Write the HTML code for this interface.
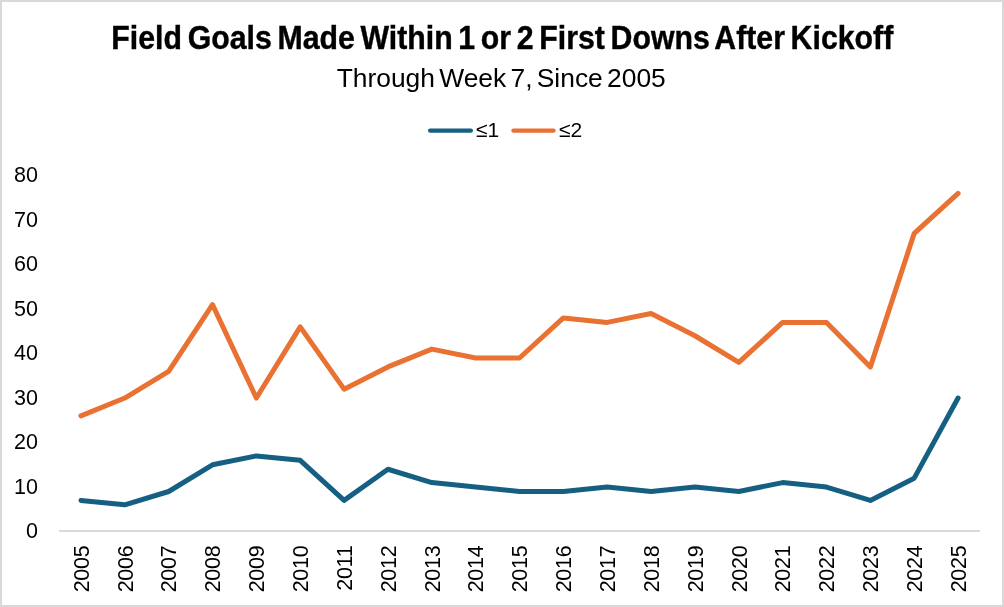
<!DOCTYPE html>
<html><head><meta charset="utf-8"><style>
html,body{margin:0;padding:0;background:#fff;}
body{width:1004px;height:607px;overflow:hidden;position:relative;}
svg{position:absolute;left:0;top:0;will-change:transform;}
text{font-family:"Liberation Sans",sans-serif;fill:#000;}
</style></head><body>
<svg width="1004" height="607" viewBox="0 0 1004 607">
<rect x="1" y="1" width="1002" height="605" fill="#fff" stroke="#d9d9d9" stroke-width="2"/>
<text transform="translate(502.3,49.3) scale(0.918,1)" text-anchor="middle" font-size="33" font-weight="bold" word-spacing="-3" stroke="#000" stroke-width="0.4">Field Goals Made Within 1 or 2 First Downs After Kickoff</text>
<text transform="translate(501.2,86.9) scale(1.015,1)" text-anchor="middle" font-size="26" word-spacing="-3">Through Week 7, Since 2005</text>
<g font-size="21.5"><text x="38" y="538.39" text-anchor="end">0</text><text x="38" y="493.86" text-anchor="end">10</text><text x="38" y="449.33" text-anchor="end">20</text><text x="38" y="404.80" text-anchor="end">30</text><text x="38" y="360.27" text-anchor="end">40</text><text x="38" y="315.74" text-anchor="end">50</text><text x="38" y="271.21" text-anchor="end">60</text><text x="38" y="226.68" text-anchor="end">70</text><text x="38" y="182.15" text-anchor="end">80</text></g><g font-size="21.5" letter-spacing="-0.3"><text transform="translate(88.67,545.7) rotate(-90)" text-anchor="end">2005</text><text transform="translate(132.53,545.7) rotate(-90)" text-anchor="end">2006</text><text transform="translate(176.38,545.7) rotate(-90)" text-anchor="end">2007</text><text transform="translate(220.24,545.7) rotate(-90)" text-anchor="end">2008</text><text transform="translate(264.10,545.7) rotate(-90)" text-anchor="end">2009</text><text transform="translate(307.95,545.7) rotate(-90)" text-anchor="end">2010</text><text transform="translate(351.81,545.7) rotate(-90)" text-anchor="end">2011</text><text transform="translate(395.67,545.7) rotate(-90)" text-anchor="end">2012</text><text transform="translate(439.53,545.7) rotate(-90)" text-anchor="end">2013</text><text transform="translate(483.38,545.7) rotate(-90)" text-anchor="end">2014</text><text transform="translate(527.24,545.7) rotate(-90)" text-anchor="end">2015</text><text transform="translate(571.10,545.7) rotate(-90)" text-anchor="end">2016</text><text transform="translate(614.95,545.7) rotate(-90)" text-anchor="end">2017</text><text transform="translate(658.81,545.7) rotate(-90)" text-anchor="end">2018</text><text transform="translate(702.67,545.7) rotate(-90)" text-anchor="end">2019</text><text transform="translate(746.53,545.7) rotate(-90)" text-anchor="end">2020</text><text transform="translate(790.38,545.7) rotate(-90)" text-anchor="end">2021</text><text transform="translate(834.24,545.7) rotate(-90)" text-anchor="end">2022</text><text transform="translate(878.10,545.7) rotate(-90)" text-anchor="end">2023</text><text transform="translate(921.95,545.7) rotate(-90)" text-anchor="end">2024</text><text transform="translate(965.81,545.7) rotate(-90)" text-anchor="end">2025</text></g>
<line x1="59" y1="531" x2="980" y2="531" stroke="#d9d9d9" stroke-width="2"/>
<polyline points="80.93,500.40 124.79,504.85 168.64,491.50 212.50,464.80 256.36,455.90 300.21,460.35 344.07,500.40 387.93,469.25 431.79,482.60 475.64,487.05 519.50,491.50 563.36,491.50 607.21,487.05 651.07,491.50 694.93,487.05 738.79,491.50 782.64,482.60 826.50,487.05 870.36,500.40 914.21,478.15 958.07,398.05" fill="none" stroke="#156082" stroke-width="5" stroke-linejoin="round" stroke-linecap="round"/>
<polyline points="80.93,415.85 124.79,398.05 168.64,371.35 212.50,304.60 256.36,398.05 300.21,326.85 344.07,389.15 387.93,366.90 431.79,349.10 475.64,358.00 519.50,358.00 563.36,317.95 607.21,322.40 651.07,313.50 694.93,335.75 738.79,362.45 782.64,322.40 826.50,322.40 870.36,366.90 914.21,233.40 958.07,193.35" fill="none" stroke="#E97132" stroke-width="5" stroke-linejoin="round" stroke-linecap="round"/>
<line x1="430.2" y1="130.6" x2="470.8" y2="130.6" stroke="#156082" stroke-width="4.4" stroke-linecap="round"/>
<text x="476" y="137" font-size="21">≤1</text>
<line x1="513.5" y1="130.6" x2="553.5" y2="130.6" stroke="#E97132" stroke-width="4.4" stroke-linecap="round"/>
<text x="559" y="137" font-size="21">≤2</text>
</svg>
</body></html>
